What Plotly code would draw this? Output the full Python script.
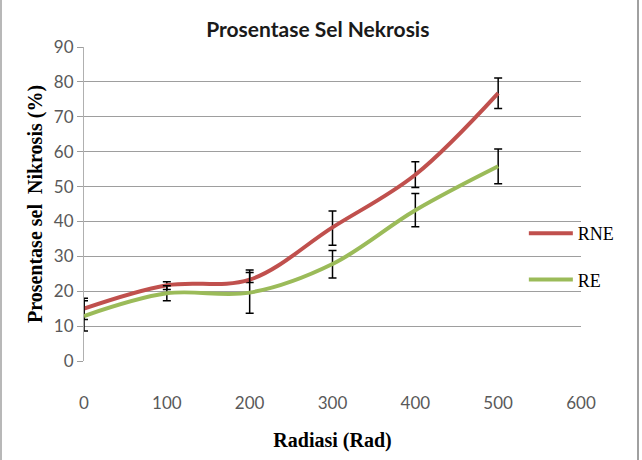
import plotly.graph_objects as go

radiasi = [0, 100, 200, 300, 400, 500]

rne = [15.0, 21.7, 23.3, 38.3, 53.4, 76.8]
rne_plus = [3.0, 1.0, 2.8, 4.7, 3.7, 4.3]
rne_minus = [3.1, 1.2, 0.8, 5.1, 3.7, 4.4]

re_ = [12.9, 19.4, 19.6, 27.8, 43.2, 55.8]
re_plus = [4.4, 2.2, 5.8, 3.9, 4.8, 5.0]
re_minus = [4.3, 2.1, 5.9, 4.0, 4.7, 5.0]

x_ticks = [0, 100, 200, 300, 400, 500, 600]
y_ticks = [0, 10, 20, 30, 40, 50, 60, 70, 80, 90]

fig = go.Figure()
fig.add_trace(go.Scatter(
    x=radiasi, y=rne, mode="lines", name="RNE", legendgroup="a",
    line=dict(color="#C0504D", width=4, shape="spline", smoothing=1.0),
    error_y=dict(type="data", symmetric=False, array=rne_plus, arrayminus=rne_minus,
                 color="#000000", thickness=1.5, width=4),
))
fig.add_trace(go.Scatter(
    x=radiasi, y=re_, mode="lines", name="RE", legendgroup="b",
    line=dict(color="#9BBB59", width=4, shape="spline", smoothing=1.0),
    error_y=dict(type="data", symmetric=False, array=re_plus, arrayminus=re_minus,
                 color="#000000", thickness=1.5, width=4),
))

fig.update_layout(
    width=642, height=460,
    margin=dict(l=84, r=61, t=47, b=99),
    paper_bgcolor="white", plot_bgcolor="white",
    title=dict(text="Prosentase Sel Nekrosis", x=0.495, xanchor="center",
               y=1 - 30 / 460, yanchor="middle", xref="container", yref="container",
               font=dict(family="Lato", size=21, color="#1a1a1a", weight="bold")),
    xaxis=dict(range=[0, 600], tickvals=x_ticks, showgrid=False, zeroline=False,
               showline=False, ticks="", ticklabelstandoff=30,
               tickfont=dict(family="Lato", size=17, color="#595959"),
               title=dict(text="Radiasi (Rad)", standoff=20,
                          font=dict(family="Liberation Serif", size=20, color="#000000", weight="bold"))),
    yaxis=dict(range=[0, 90], tickvals=y_ticks, showgrid=True, gridcolor="#9e9e9e", gridwidth=1,
               zeroline=False, showline=True, linecolor="#b0b0b0", linewidth=1,
               ticks="outside", ticklen=6, tickcolor="#9e9e9e",
               tickfont=dict(family="Lato", size=17, color="#595959"),
               title=dict(text="Prosentase sel  Nikrosis (%)", standoff=5,
                          font=dict(family="Liberation Serif", size=20, color="#000000", weight="bold"))),
    legend=dict(x=0.885, y=(361 - 256.5) / 314, xanchor="left", yanchor="middle",
                bgcolor="rgba(0,0,0,0)", traceorder="grouped", tracegroupgap=20,
                itemwidth=44,
                font=dict(family="Liberation Serif", size=18, color="#000000")),
    shapes=[
        dict(type="line", xref="paper", yref="paper", x0=(1 - 84) / 497, x1=(1 - 84) / 497,
             y0=-0.32, y1=1.16, line=dict(color="#a0a0a0", width=1.5)),
        dict(type="line", xref="paper", yref="paper", x0=(638 - 84) / 497, x1=(638 - 84) / 497,
             y0=-0.32, y1=1.16, line=dict(color="#a0a0a0", width=2)),
    ],
)

fig.write_html("out.html")
